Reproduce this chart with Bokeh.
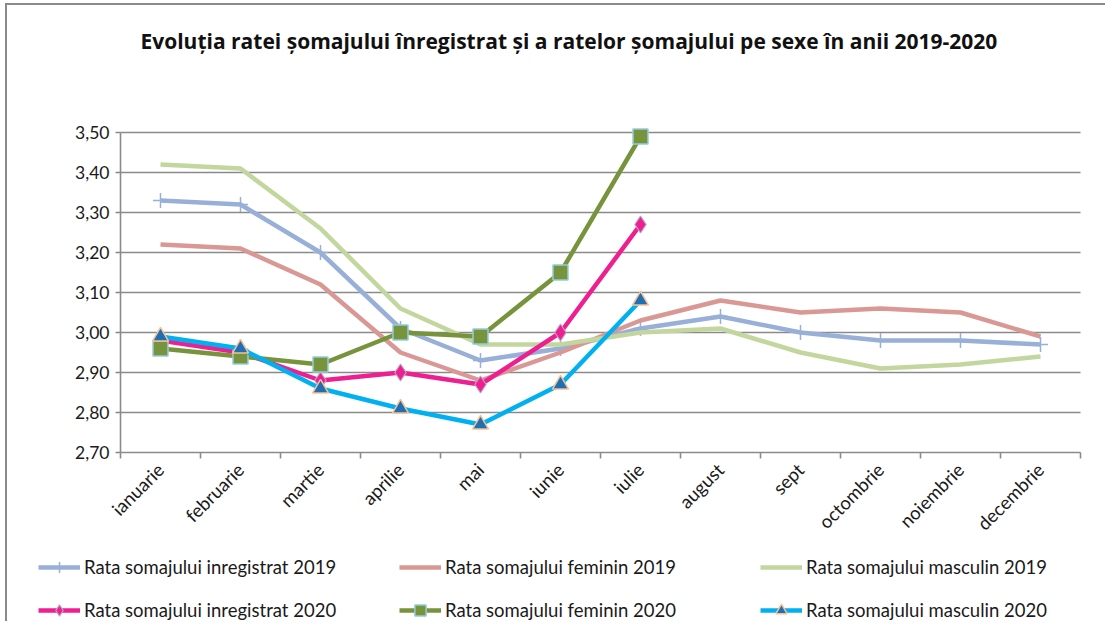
import math
from bokeh.plotting import figure
from bokeh.models import Range1d, FixedTicker, CustomJSTickFormatter, Legend, LegendItem, Label
from bokeh.embed import file_html
from bokeh.resources import INLINE

months = ["ianuarie", "februarie", "martie", "aprilie", "mai", "iunie", "iulie",
          "august", "sept", "octombrie", "noiembrie", "decembrie"]
inreg_2019 = [3.33, 3.32, 3.20, 3.01, 2.93, 2.96, 3.01, 3.04, 3.00, 2.98, 2.98, 2.97]
fem_2019 = [3.22, 3.21, 3.12, 2.95, 2.88, 2.95, 3.03, 3.08, 3.05, 3.06, 3.05, 2.99]
masc_2019 = [3.42, 3.41, 3.26, 3.06, 2.97, 2.97, 3.00, 3.01, 2.95, 2.91, 2.92, 2.94]
inreg_2020 = [2.98, 2.95, 2.88, 2.90, 2.87, 3.00, 3.27]
fem_2020 = [2.96, 2.94, 2.92, 3.00, 2.99, 3.15, 3.49]
masc_2020 = [2.99, 2.96, 2.86, 2.81, 2.77, 2.87, 3.08]
y_ticks = [2.70, 2.80, 2.90, 3.00, 3.10, 3.20, 3.30, 3.40, 3.50]
title = "Evoluția ratei șomajului înregistrat și a ratelor șomajului pe sexe în anii 2019-2020"
names = ["Rata somajului inregistrat 2019", "Rata somajului feminin 2019",
         "Rata somajului masculin 2019", "Rata somajului inregistrat 2020",
         "Rata somajului feminin 2020", "Rata somajului masculin 2020"]

FONT = "Lato"
GRID = "#8a8a8a"
TXT = "#1a1a1a"
W, H = 1100, 618          # canvas, placed at page (7, 5) after margin + border
PX_X = 80.0               # pixels per month
PX_Y = 400.0              # pixels per 1.0 of rate
OX, OY = 113, 447         # canvas position of (x=0, y=2.70)

y0 = y_ticks[0]
x_range = Range1d(-OX / PX_X, (W - OX) / PX_X)
y_range = Range1d(y0 - (H - OY) / PX_Y, y0 + OY / PX_Y)

p = figure(width=W, height=H, output_backend="svg", toolbar_location=None,
           x_range=x_range, y_range=y_range,
           min_border_left=0, min_border_right=0, min_border_top=0, min_border_bottom=0)
p.outline_line_color = None
p.styles = {"margin": "3px 0 0 5px",
            "border-top": "2px solid #8a8a8a",
            "border-left": "2px solid #8a8a8a"}
p.xgrid.grid_line_color = None
p.ygrid.grid_line_color = None

# axes fixed at the data origin of the chart area
p.xaxis.fixed_location = y0
p.xaxis.bounds = (0, len(months))
p.yaxis.fixed_location = 0
p.yaxis.bounds = (y_ticks[0], y_ticks[-1])

p.xaxis.ticker = FixedTicker(ticks=[i + 0.5 for i in range(len(months))],
                             minor_ticks=list(range(len(months) + 1)))
p.xaxis.formatter = CustomJSTickFormatter(args=dict(m=months),
                                          code="return m[Math.floor(tick)] || '';")
p.xaxis.major_tick_line_color = None
p.xaxis.minor_tick_line_color = GRID
p.xaxis.minor_tick_line_width = 1.6
p.xaxis.minor_tick_out = 6
p.xaxis.minor_tick_in = 0
p.xaxis.major_label_orientation = math.pi / 4
p.xaxis.major_label_standoff = 8

p.yaxis.ticker = FixedTicker(ticks=y_ticks, minor_ticks=[])
p.yaxis.formatter = CustomJSTickFormatter(code="return tick.toFixed(2).replace('.', ',');")
p.yaxis.major_tick_line_color = GRID
p.yaxis.major_tick_line_width = 1.6
p.yaxis.major_tick_out = 5
p.yaxis.major_tick_in = 0
p.yaxis.minor_tick_line_color = None
p.yaxis.major_label_standoff = 6

for ax in (p.xaxis, p.yaxis):
    ax.axis_line_color = GRID
    ax.axis_line_width = 1.6
    ax.major_label_text_font = FONT
    ax.major_label_text_color = TXT
p.xaxis.major_label_text_font_size = "18.5px"
p.yaxis.major_label_text_font_size = "17.5px"

# horizontal gridlines across the month span
p.segment(x0=0, x1=len(months), y0=y_ticks[1:], y1=y_ticks[1:],
          line_color=GRID, line_width=1.6)

xs12 = [i + 0.5 for i in range(len(months))]
xs7 = xs12[:len(inreg_2020)]

styles = [
    dict(line=dict(line_color="#98AFD8"), marker=dict(marker="cross", size=15, line_color="#98AFD8", line_width=1.5)),
    dict(line=dict(line_color="#D99894"), marker=None),
    dict(line=dict(line_color="#C3D69E"), marker=None),
    dict(line=dict(line_color="#EE1F90"), marker=dict(marker="diamond", size=17, fill_color="#EE1F90", line_color="#B7A6CC", line_width=1.2)),
    dict(line=dict(line_color="#77933C"), marker=dict(marker="square", size=15, fill_color="#77933C", line_color="#93CDDD", line_width=1.5)),
    dict(line=dict(line_color="#00B0F0"), marker=dict(marker="triangle", size=16, fill_color="#1F6FB5", line_color="#FAC090", line_width=1.5)),
]
series = [(xs12, inreg_2019), (xs12, fem_2019), (xs12, masc_2019),
          (xs7, inreg_2020), (xs7, fem_2020), (xs7, masc_2020)]

items = []
for name, (xs, ys), st in zip(names, series, styles):
    rs = [p.line(xs, ys, line_width=4.5, **st["line"])]
    if st["marker"]:
        rs.append(p.scatter(xs, ys, **st["marker"]))
    items.append(LegendItem(label=name, renderers=rs))

legend = Legend(items=items, location=(31, -1), orientation="horizontal", ncols=3,
                padding=0, margin=0, spacing=15, glyph_width=42, glyph_height=28,
                label_height=28, label_width=300, label_standoff=4,
                border_line_color=None, background_fill_alpha=0,
                label_text_font=FONT, label_text_font_size="18.5px",
                label_text_color=TXT)
p.add_layout(legend, "center")

p.add_layout(Label(x=20 / PX_X, y=y0 + (OY - 35) / PX_Y, text=title,
                   text_align="left", text_baseline="middle",
                   text_font="Open Sans", text_font_style="bold", text_font_size="21px",
                   text_color="#111111"))

open("out.html", "w").write(file_html(p, INLINE))
